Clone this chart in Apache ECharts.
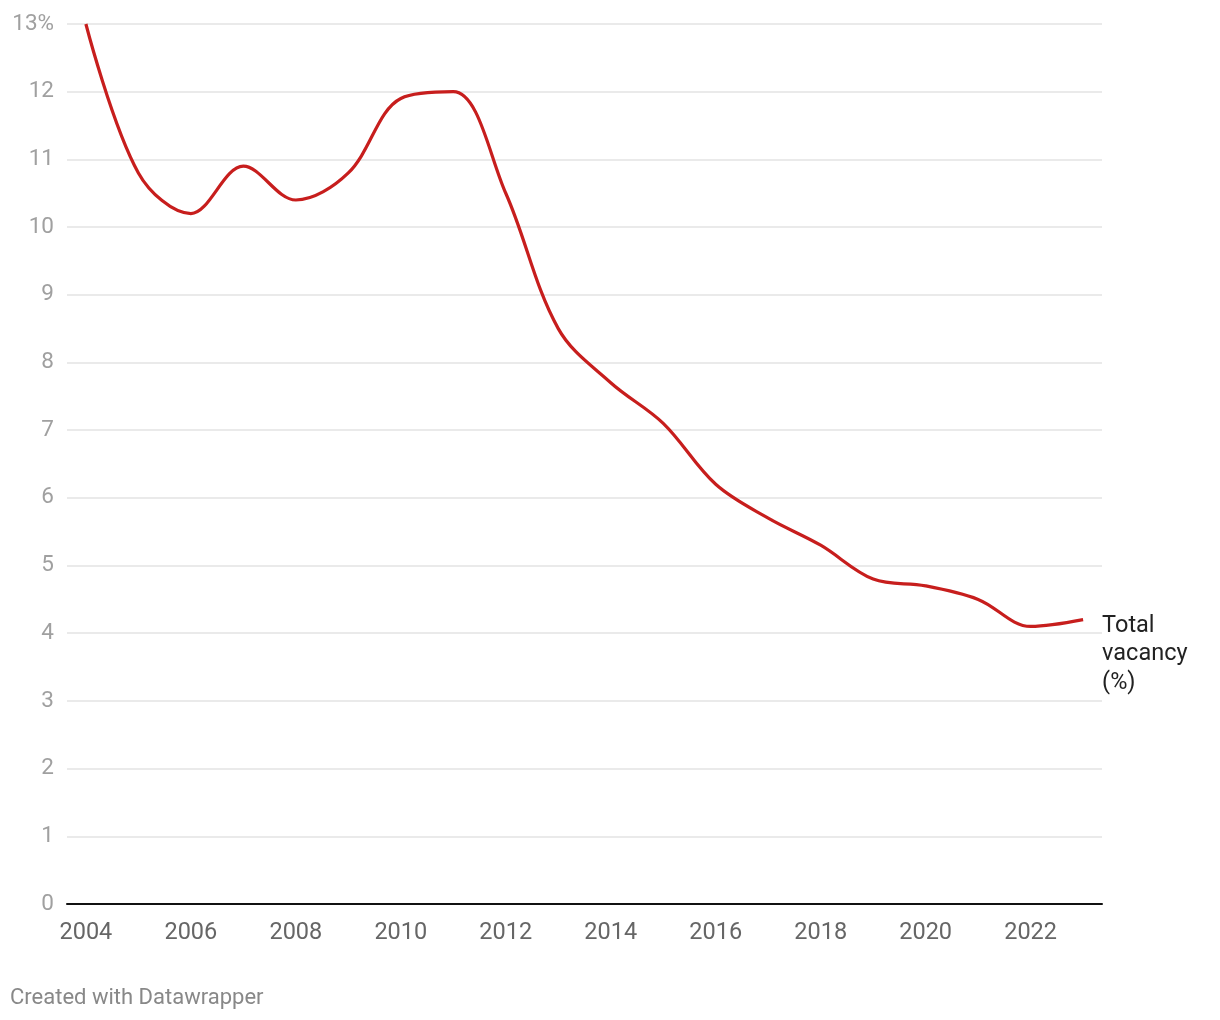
<!DOCTYPE html>
<html>
<head>
<meta charset="utf-8">
<script src="https://cdn.jsdelivr.net/npm/echarts@6/dist/echarts.min.js"></script>
<style>
html,body{margin:0;padding:0;background:#fff;}
#chart{width:1220px;height:1020px;}
</style>
</head>
<body>
<div id="chart"></div>
<script>
const years = [2004,2005,2006,2007,2008,2009,2010,2011,2012,2013,2014,2015,2016,2017,2018,2019,2020,2021,2022,2023];
const vacancy = [13.0,10.8,10.2,10.9,10.4,10.8,11.9,12.0,10.5,8.5,7.7,7.1,6.2,5.7,5.3,4.8,4.7,4.5,4.1,4.2];
const xTickLabels = [2004,2006,2008,2010,2012,2014,2016,2018,2020,2022];
const yTicks = [0,1,2,3,4,5,6,7,8,9,10,11,12,13];
const seriesName = 'Total\nvacancy\n(%)';
const credit = 'Created with Datawrapper';

const chart = echarts.init(document.getElementById('chart'), null, {renderer:'canvas'});
chart.setOption({
  animation:false,
  backgroundColor:'#fff',
  textStyle:{fontFamily:'Roboto'},
  graphic:[{
    type:'text', left:10, top:987,
    style:{text:credit, fill:'#888', font:'22px Roboto'}
  }],
  grid:{left:67, right:118, top:24, bottom:116, containLabel:false},
  xAxis:{
    type:'value', min:2003.64, max:2023.36,
    axisLine:{show:true, lineStyle:{color:'#111', width:2}},
    axisTick:{show:false},
    splitLine:{show:false},
    axisLabel:{customValues:xTickLabels, color:'#666', fontSize:23.5, margin:17, fontFamily:'Roboto', formatter:v=>String(v)}
  },
  yAxis:{
    type:'value', min:0, max:13, interval:1,
    axisLine:{show:false}, axisTick:{show:false},
    splitLine:{show:true, lineStyle:{color:'#e3e3e3', width:1.5}},
    axisLabel:{customValues:yTicks, color:'#a0a0a0', fontSize:22.5, margin:13, fontFamily:'Roboto',
      formatter:v=> v===13 ? '13%' : String(v)}
  },
  series:[{
    type:'line', name:seriesName,
    data:years.map((y,i)=>[y,vacancy[i]]),
    smooth:0.35,
    symbol:'none',
    lineStyle:{color:'#c71e1d', width:3.2},
    endLabel:{show:true, formatter:seriesName, color:'#222', fontSize:23.5, lineHeight:28.5,
      fontFamily:'Roboto', align:'left', verticalAlign:'top', offset:[11,-8]}
  }]
});
</script>
</body>
</html>
